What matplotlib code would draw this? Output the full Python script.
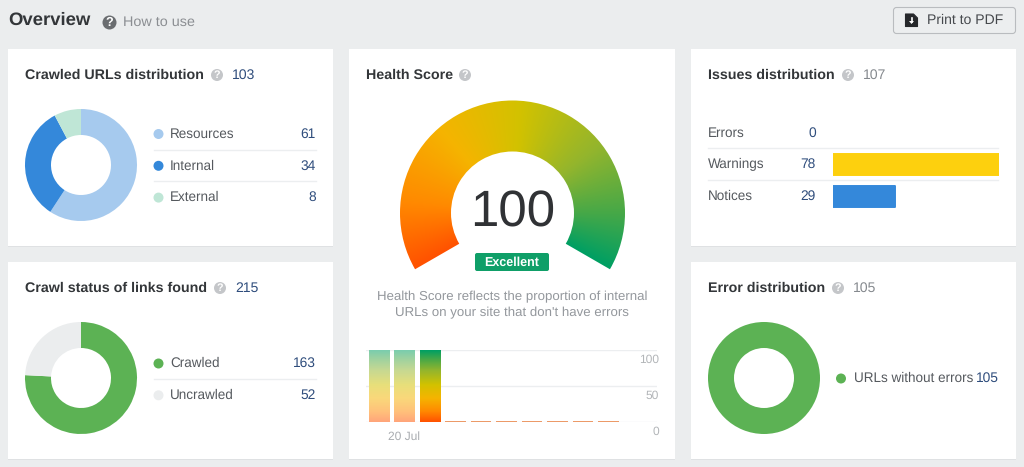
import numpy as np
import matplotlib
matplotlib.use("Agg")
import matplotlib.pyplot as plt
from matplotlib.colors import LinearSegmentedColormap, to_rgb
from matplotlib.patches import Circle, FancyBboxPatch, Polygon, Rectangle, Wedge

plt.rcParams["font.family"] = ["Liberation Sans", "DejaVu Sans"]
plt.rcParams["text.hinting"] = "none"

# --- Data ---
crawled_labels = ["Resources", "Internal", "External"]
crawled_values = [61, 34, 8]
crawled_total = 103

status_labels = ["Crawled", "Uncrawled"]
status_values = [163, 52]
status_total = 215

issue_labels = ["Errors", "Warnings", "Notices"]
issue_values = [0, 78, 29]
issue_total = 107

error_labels = ["URLs without errors"]
error_values = [105]
error_total = 105

health_score = 100
history_scores = [100, 100, 100, 2, 2, 2, 2, 2, 2, 2]
history_ticks = [0, 50, 100]

# --- Colours ---
BG = "#ebedee"
DARK = "#333639"
BODY = "#55595e"
NAVY = "#2f4d7c"
GREY = "#85898e"
crawled_colors = ["#a6caee", "#3488da", "#bfe6d6"]
status_colors = ["#5cb254", "#ebedee"]
issue_colors = ["#fdd00e", "#fdd00e", "#3488da"]
error_colors = ["#5cb254"]
gauge_cmap = LinearSegmentedColormap.from_list(
    "gauge", [(0, "#ff5200"), (0.15, "#ff8a00"), (0.33, "#f5b400"), (0.52, "#d2c200"),
              (0.72, "#93b52d"), (0.88, "#45a848"), (1, "#009f63")])

W, H = 1024, 467
fig = plt.figure(figsize=(W / 100, H / 100), dpi=100, facecolor=BG)

# overlay in pixel coordinates for the page furniture
page = fig.add_axes([0, 0, 1, 1], zorder=0)
page.set_xlim(0, W)
page.set_ylim(H, 0)
page.axis("off")


def px_axes(x0, y0, x1, y1, zorder=2):
    ax = fig.add_axes([x0 / W, 1 - y1 / H, (x1 - x0) / W, (y1 - y0) / H], zorder=zorder)
    ax.patch.set_alpha(0)
    return ax


def px(size):
    return size * 0.72


def card(x0, y0, x1, y1):
    page.add_patch(Rectangle((x0, y0 + 1), x1 - x0, y1 - y0, fc="#dfe1e3", ec="none", zorder=1))
    page.add_patch(Rectangle((x0, y0), x1 - x0, y1 - y0, fc="white", ec="none", zorder=1))


def help_icon(x, y, r=6, color="#c4c6c9"):
    page.add_patch(Circle((x, y), r, fc=color, ec="none", zorder=3))
    page.text(x, y + 0.3, "?", color="white", fontsize=px(r * 1.8), fontweight="bold",
              ha="center", va="center", zorder=4)


def title(x, y, label, icon_x, total=None, total_x=None, total_color=NAVY):
    page.text(x, y + 0.5, label, color=DARK, fontsize=px(14.2), fontweight="bold", va="center", zorder=3)
    help_icon(icon_x, y)
    if total is not None:
        page.text(total_x, y + 0.5, str(total), color=total_color, fontsize=px(14), va="center", zorder=3)


def donut(cx, cy, values, colors):
    r, pad = 56.0, 2.0
    ax = px_axes(cx - r - pad, cy - r - pad, cx + r + pad, cy + r + pad)
    ax.pie(values, colors=colors, startangle=90, counterclock=False, radius=1,
           wedgeprops=dict(width=1 - 30 / r, linewidth=0))
    ax.set_xlim(-1 - pad / r, 1 + pad / r)
    ax.set_ylim(-1 - pad / r, 1 + pad / r)


def legend_rows(x, labels, values, colors, y0, right=316):
    for i, (label, value, color) in enumerate(zip(labels, values, colors)):
        y = y0 + i * 31.8
        page.add_patch(Circle((x + 5, y), 5, fc=color, ec="none", zorder=3))
        page.text(x + 16.5, y, label, color=BODY, fontsize=px(13.5), va="center", zorder=3)
        page.text(right, y, str(value), color=NAVY, fontsize=px(13.8), ha="right", va="center", zorder=3)
        if i < len(labels) - 1:
            page.plot([x, right], [y + 15.6, y + 15.6], color="#eceef0", lw=1, zorder=2)


# --- Header ---
page.text(8, 20.5, "Overview", color=DARK, fontsize=px(18.5), fontweight="bold", va="center")
help_icon(109.5, 22.5, r=7, color="#6a6d70")
page.text(123, 22.5, "How to use", color="#8b8e92", fontsize=px(14.4), va="center")

page.add_patch(FancyBboxPatch((893.5, 7.5), 122, 26, boxstyle="round,pad=0,rounding_size=3",
                              fc="#eceeef", ec="#b9bcbf", lw=0.8, zorder=2))
page.add_patch(Polygon([(905.5, 14), (913.5, 14), (917.5, 18), (917.5, 26.5), (905.5, 26.5)],
                       closed=True, fc="#26282b", ec="#26282b", lw=0.8, joinstyle="round", zorder=3))
page.plot([911.5, 911.5], [18, 21.5], color="white", lw=1.2, zorder=4)
page.add_patch(Polygon([(909, 21), (914, 21), (911.5, 24)], closed=True, fc="white", ec="none", zorder=4))
page.text(927, 20.5, "Print to PDF", color="#46494d", fontsize=px(14), va="center", zorder=3)

# --- Cards ---
card(8, 49, 333, 246)
card(8, 262, 333, 459)
card(349, 49, 675, 459)
card(691, 49, 1016, 246)
card(691, 262, 1016, 459)

# Crawled URLs distribution
title(25, 75, "Crawled URLs distribution", 217, crawled_total, 232)
donut(81, 165, crawled_values, crawled_colors)
legend_rows(153.5, crawled_labels, crawled_values, crawled_colors, 134)

# Crawl status of links found
title(25, 288, "Crawl status of links found", 220, status_total, 235)
donut(81, 378, status_values, status_colors)
legend_rows(153.5, status_labels, status_values, status_colors, 363.5)

# Error distribution
title(708, 288, "Error distribution", 838, error_total, 853, GREY)
donut(764, 378, error_values, error_colors)
page.add_patch(Circle((841, 378.5), 5, fc=error_colors[0], ec="none", zorder=3))
page.text(854, 378.5, error_labels[0], color=BODY, fontsize=px(13.5), va="center", zorder=3)
page.text(999, 378.5, str(error_values[0]), color=NAVY, fontsize=px(13.8), ha="right", va="center", zorder=3)

# Issues distribution
title(708, 75, "Issues distribution", 848, issue_total, 863, GREY)
for i, (label, value) in enumerate(zip(issue_labels, issue_values)):
    y = 132.8 + i * 31.7
    page.text(708, y, label, color=BODY, fontsize=px(13.5), va="center", zorder=3)
    page.text(816, y, str(value), color=NAVY, fontsize=px(13.8), ha="right", va="center", zorder=3)
    if i < len(issue_labels) - 1:
        page.plot([708, 998], [y + 15.6, y + 15.6], color="#eceef0", lw=1, zorder=2)

bars = px_axes(833, 116.5, 999, 212.5)
rects = bars.barh(range(len(issue_values)), issue_values, height=0.66, color=issue_colors,
                  edgecolor=issue_colors, linewidth=1.4)
for rect in rects:
    rect.set_joinstyle("round")
    if rect.get_width() == 0:
        rect.set_visible(False)
bars.set_xlim(0, max(issue_values))
bars.set_ylim(2.5, -0.5)
bars.axis("off")

# Health Score gauge: colour follows the angle, from 210 degrees round to -30
title(366, 75, "Health Score", 465)
cx, cy, r_out, r_in = 512.5, 213.0, 112.5, 61.5
start, end = 210.0, -30.0
lim = r_out + 3
gauge = px_axes(cx - lim, cy - lim, cx + lim, cy + lim)
gx, gy = np.meshgrid(np.linspace(-lim, lim, 460), np.linspace(lim, -lim, 460))
angle = np.degrees(np.arctan2(gy, gx))
angle = np.where(angle < -90, angle + 360, angle)
im = gauge.imshow((start - angle) / (start - end), cmap=gauge_cmap, vmin=0, vmax=1,
                  extent=[-lim, lim, -lim, lim], interpolation="bilinear")
sweep = (start - end) * health_score / 100
arc = Wedge((0, 0), r_out, start - sweep, start, width=r_out - r_in, transform=gauge.transData,
            fc="none", ec="none")
gauge.add_patch(arc)
im.set_clip_path(arc)
gauge.set_xlim(-lim, lim)
gauge.set_ylim(-lim, lim)
gauge.axis("off")

page.text(512.5, 213, str(health_score), color="#303235", fontsize=px(51),
          ha="center", va="center", zorder=3)
page.add_patch(FancyBboxPatch((475, 253), 74, 18, boxstyle="round,pad=0,rounding_size=2",
                              fc="#0f9f68", ec="none", zorder=3))
page.text(512, 262.5, "Excellent", color="white", fontsize=px(12.5), fontweight="bold",
          ha="center", va="center", zorder=4)
page.text(512, 296.5, "Health Score reflects the proportion of internal", color="#93979c",
          fontsize=px(13.2), ha="center", va="center", zorder=3)
page.text(512, 313, "URLs on your site that don't have errors", color="#93979c",
          fontsize=px(13.2), ha="center", va="center", zorder=3)

# Score history
hist = px_axes(366, 350, 657, 422)
positions = np.arange(len(history_scores))
stubs = hist.bar(positions, history_scores, width=0.8, color="#ec9a68", linewidth=0, zorder=3)
bar_cmap = gauge_cmap(np.linspace(1, 0, 128))[:, None, :3]
for i, rect in enumerate(stubs):
    if rect.get_height() < 50:
        continue
    rect.set_visible(False)
    rgba = bar_cmap.copy()
    if i < 2:
        # earlier scans are washed out
        rgba = rgba * 0.52 + np.array(to_rgb("white")) * 0.48
    hist.imshow(rgba, extent=[rect.get_x(), rect.get_x() + rect.get_width(), 0, rect.get_height()],
                aspect="auto", zorder=2)
hist.set_xlim(-0.5, 10.89)
hist.set_ylim(0, 100)
hist.set_yticks(history_ticks)
hist.grid(axis="y", color="#eceef0", lw=1, zorder=0)
hist.set_axisbelow(True)
hist.tick_params(left=False, bottom=False, labelleft=False, labelbottom=False)
for spine in hist.spines.values():
    spine.set_visible(False)
for tick in history_ticks:
    y = hist.transData.transform((0, tick))[1]
    page.text(659, H - y + 9.5, str(tick), color="#b2b5b8", fontsize=px(12),
              ha="right", va="center", zorder=3)
page.text(404, 436.5, "20 Jul", color="#a9acb0", fontsize=px(12), ha="center", va="center", zorder=3)

fig.savefig("out.png", dpi=100, facecolor=BG)
